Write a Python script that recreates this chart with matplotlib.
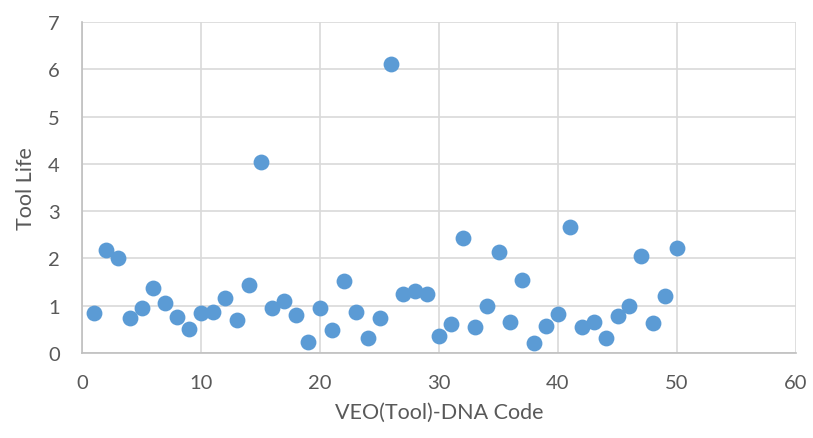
import matplotlib
matplotlib.use('Agg')
import matplotlib.pyplot as plt

codes = list(range(1, 51))
tool_life = [0.85, 2.18, 2.00, 0.74, 0.95, 1.37, 1.06, 0.76, 0.51, 0.85,
             0.87, 1.16, 0.70, 1.44, 4.04, 0.95, 1.10, 0.80, 0.23, 0.95,
             0.49, 1.52, 0.87, 0.32, 0.74, 6.11, 1.25, 1.31, 1.25, 0.36,
             0.61, 2.43, 0.55, 0.99, 2.14, 0.66, 1.54, 0.21, 0.57, 0.82,
             2.66, 0.55, 0.66, 0.32, 0.78, 0.99, 2.05, 0.63, 1.20, 2.22]
x_ticks = [0, 10, 20, 30, 40, 50, 60]
y_ticks = [0, 1, 2, 3, 4, 5, 6, 7]

plt.rcParams['font.family'] = ['Lato', 'DejaVu Sans']

fig = plt.figure(figsize=(8.13, 4.39), dpi=100)
ax = fig.add_axes([82 / 813, 1 - 354 / 439, (796 - 82) / 813, (354 - 23) / 439])

ax.scatter(codes, tool_life, s=130, color='#5B9BD5', zorder=3, linewidths=0)

ax.set_xlim(0, 60)
ax.set_ylim(0, 7)
ax.set_xticks(x_ticks)
ax.set_yticks(y_ticks)
ax.grid(True, color='#D9D9D9', linewidth=1.2, zorder=0)
for side in ['top', 'right']:
    ax.spines[side].set_visible(False)
for side in ['left', 'bottom']:
    ax.spines[side].set_color('#BFBFBF')
    ax.spines[side].set_linewidth(1.2)
ax.tick_params(length=0, labelsize=14.5, colors='#595959')
ax.tick_params(axis='x', pad=15)
ax.tick_params(axis='y', pad=16)
ax.set_xlabel('VEO(Tool)-DNA Code', fontsize=15.5, color='#595959', labelpad=8)
ax.set_ylabel('Tool Life', fontsize=15.5, color='#595959', labelpad=9)

fig.savefig('out.png', dpi=100)
